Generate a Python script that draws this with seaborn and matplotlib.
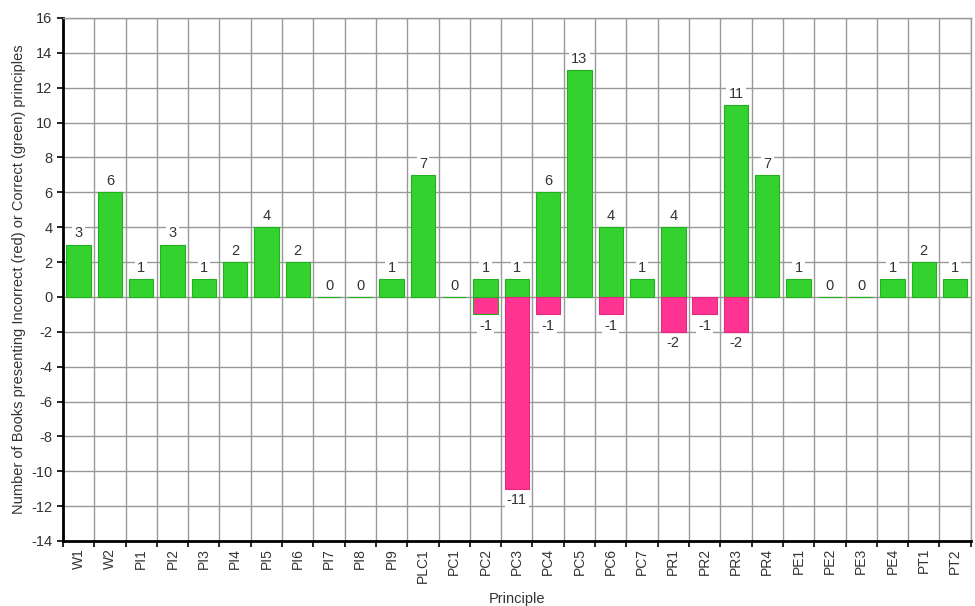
import numpy as np
import pandas as pd
import matplotlib
matplotlib.use('Agg')
import matplotlib.pyplot as plt
import seaborn as sns

# ── Дані ─────────────────────────────────────────────────────────────────────
principles = ['W1', 'W2', 'PI1', 'PI2', 'PI3', 'PI4', 'PI5', 'PI6', 'PI7', 'PI8',
              'PI9', 'PLC1', 'PC1', 'PC2', 'PC3', 'PC4', 'PC5', 'PC6', 'PC7',
              'PR1', 'PR2', 'PR3', 'PR4', 'PE1', 'PE2', 'PE3', 'PE4', 'PT1', 'PT2']
correct = [3, 6, 1, 3, 1, 2, 4, 2, 0, 0,
           1, 7, 0, 1, 1, 6, 13, 4, 1,
           4, np.nan, 11, 7, 1, 0, 0, 1, 2, 1]
incorrect = [np.nan] * 13 + [-1, -11, -1, np.nan, -1, np.nan,
                             -2, -1, -2] + [np.nan] * 7

GREEN = '#33D22E'
PINK = '#FF3392'
TXT = '#333333'
FS = 10.5

df = pd.DataFrame({'principle': principles * 2,
                   'value': correct + incorrect,
                   'kind': ['Correct'] * len(principles) + ['Incorrect'] * len(principles)})

sns.set_style('white')
plt.rcParams['font.family'] = ['Liberation Sans', 'DejaVu Sans']
plt.rcParams['axes.unicode_minus'] = False

fig = plt.figure(figsize=(9.75, 6.06), dpi=100)
ax = fig.add_axes([0.0646, 0.1073, 0.931, 0.863])

sns.barplot(data=df, x='principle', y='value', hue='kind', order=principles,
            palette={'Correct': GREEN, 'Incorrect': PINK}, dodge=False, saturation=1,
            width=0.78, linewidth=0, legend=False, ax=ax, zorder=3)
for p, c in zip(ax.patches, [GREEN] * len(principles) + [PINK] * len(principles)):
    p.set_edgecolor('#22B01E' if c == GREEN else '#E02A80')
    p.set_linewidth(0.8)

# підписи значень
for i, v in enumerate(correct):
    if np.isnan(v):
        continue
    ax.annotate(f'{int(v)}', (i, v), xytext=(0, 3), textcoords='offset points',
                ha='center', va='bottom', fontsize=FS, color=TXT, zorder=5,
                bbox=dict(boxstyle='square,pad=0.15', fc='white', ec='none'))
for i, v in enumerate(incorrect):
    if np.isnan(v):
        continue
    ax.annotate(f'{int(v)}', (i, v), xytext=(0, -3), textcoords='offset points',
                ha='center', va='top', fontsize=FS, color=TXT, zorder=5,
                bbox=dict(boxstyle='square,pad=0.15', fc='white', ec='none'))

n = len(principles)
ax.set_xlim(-0.5, n - 0.5)
ax.set_ylim(-14, 16)
ax.set_yticks(np.arange(-14, 17, 2))
ax.set_xticks(np.arange(n))
ax.set_xticklabels(principles, rotation=90)
ax.set_xticks(np.arange(-0.5, n, 1), minor=True)

ax.grid(False)
ax.yaxis.grid(True, color='#999999', linewidth=1, zorder=0)
ax.xaxis.grid(True, which='minor', color='#999999', linewidth=1, zorder=0)
ax.set_axisbelow(True)

ax.tick_params(axis='x', which='major', length=0, pad=5, labelsize=10, labelcolor=TXT)
ax.tick_params(axis='x', which='minor', length=4, width=1.2, color='black', bottom=True)
ax.tick_params(axis='y', length=4, width=1.2, color='black', left=True,
               labelsize=FS, labelcolor=TXT)

for s in ['left', 'bottom']:
    ax.spines[s].set_color('black')
    ax.spines[s].set_linewidth(2)
for s in ['top', 'right']:
    ax.spines[s].set_color('#999999')
    ax.spines[s].set_linewidth(1)

ax.set_xlabel('Principle', fontsize=FS, color=TXT)
ax.xaxis.set_label_coords(0.5, -0.0975)
ax.set_ylabel('Number of Books presenting Incorrect (red) or Correct (green) principles',
              fontsize=FS, color=TXT, labelpad=4)

fig.savefig('out.png', dpi=100)
